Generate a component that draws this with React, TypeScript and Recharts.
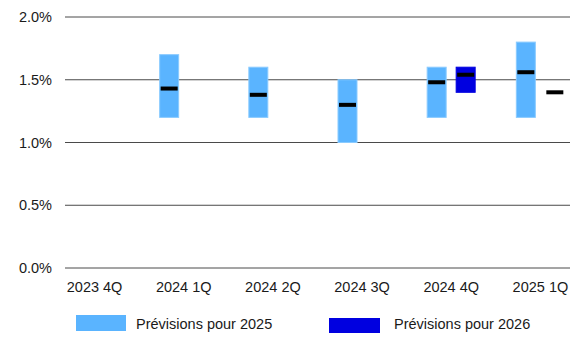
import React from 'react';
import { BarChart, Bar, XAxis, YAxis, CartesianGrid, Legend } from 'recharts';

// Quarters on the horizontal axis
const quarters = ['2023 4Q', '2024 1Q', '2024 2Q', '2024 3Q', '2024 4Q', '2025 1Q'];

// Forecast range for 2025 (low / high / median), in %
const low2025 = [null, 1.2, 1.2, 1.0, 1.2, 1.2];
const high2025 = [null, 1.7, 1.6, 1.5, 1.6, 1.8];
const median2025 = [null, 1.43, 1.38, 1.3, 1.48, 1.56];

// Forecast range for 2026 (low / high / median), in %
const low2026 = [null, null, null, null, 1.4, 1.4];
const high2026 = [null, null, null, null, 1.6, 1.4];
const median2026 = [null, null, null, null, 1.54, 1.4];

const yTicks = [0, 0.5, 1.0, 1.5, 2.0];

const series = [
  { key: 'f2025', name: 'Prévisions pour 2025', fill: '#5AB4FF', stroke: '#8ACBFF' },
  { key: 'f2026', name: 'Prévisions pour 2026', fill: '#0000E0', stroke: '#0000E0' },
];

const data = quarters.map((q, i) => ({
  quarter: q,
  f2025: high2025[i],
  f2025Low: low2025[i],
  f2025Med: median2025[i],
  f2026: high2026[i],
  f2026Low: low2026[i],
  f2026Med: median2026[i],
}));

const FONT = '"Liberation Sans", Arial, sans-serif';

// The bar is laid out by Recharts from 0 up to the high value; the shape
// only paints the low..high range and a black median marker, using the
// bar's own pixel height per unit to place them.
const makeRangeShape = (prefix: string, fill: string, stroke: string) => (props: any) => {
  const { x, y, width, height, payload } = props;
  const high = payload[prefix];
  const low = payload[prefix + 'Low'];
  const med = payload[prefix + 'Med'];
  if (high == null || low == null || !height) return <g />;
  const k = height / high;
  const top = y;
  const rangeH = (high - low) * k;
  const medY = y + (high - med) * k;
  return (
    <g>
      {rangeH > 0 && (
        <rect x={x + 0.5} y={top} width={width - 1} height={rangeH} fill={fill} stroke={stroke} strokeWidth={1} />
      )}
      {med != null && <rect x={x + 1.5} y={medY - 2} width={width - 3} height={4} fill="#000" />}
    </g>
  );
};

const legendLayout = [
  { width: 253, swatchW: 50, swatchH: 16, gap: 10, shift: -1 },
  { width: 220, swatchW: 51, swatchH: 15, gap: 14, shift: 1.5 },
];

const renderLegend = () => (
  <div
    style={{
      display: 'flex',
      alignItems: 'center',
      height: 24,
      paddingLeft: 76,
      fontFamily: FONT,
      fontSize: 14.5,
      color: '#1a1a1a',
    }}
  >
    {series.map((s, i) => {
      const l = legendLayout[i];
      return (
        <div key={s.key} style={{ display: 'flex', alignItems: 'center', width: l.width }}>
          <span
            style={{
              display: 'inline-block',
              width: l.swatchW,
              height: l.swatchH,
              background: s.fill,
              marginRight: l.gap,
              position: 'relative',
              top: l.shift,
            }}
          />
          <span>{s.name}</span>
        </div>
      );
    })}
  </div>
);

export default function App() {
  return (
    <div style={{ position: 'absolute', left: 0, top: 0, width: 575, height: 338, background: '#fff' }}>
      <BarChart
        width={575}
        height={338}
        data={data}
        margin={{ top: 17, right: 5, bottom: 2, left: 0 }}
        barGap={9}
        barSize={20}
      >
        <CartesianGrid horizontal vertical={false} stroke="#4a4a4a" strokeWidth={1} />
        <XAxis
          dataKey="quarter"
          axisLine={false}
          tickLine={false}
          tickSize={0}
          tickMargin={14}
          height={44}
          padding={{ left: -15, right: -15 }}
          tick={{ fill: '#1a1a1a', fontSize: 14.5, fontFamily: FONT }}
          interval={0}
        />
        <YAxis
          domain={[0, 2]}
          ticks={yTicks}
          axisLine={false}
          tickLine={false}
          tickSize={0}
          tickMargin={13}
          width={65}
          tickFormatter={(v: number) => `${v.toFixed(1)}%`}
          tick={{ fill: '#1a1a1a', fontSize: 14.5, fontFamily: FONT }}
        />
        <Legend verticalAlign="bottom" content={renderLegend} wrapperStyle={{ left: 0, width: 575 }} />
        {series.map((s) => (
          <Bar
            key={s.key}
            dataKey={s.key}
            name={s.name}
            fill={s.fill}
            isAnimationActive={false}
            shape={makeRangeShape(s.key, s.fill, s.stroke)}
          />
        ))}
      </BarChart>
    </div>
  );
}
